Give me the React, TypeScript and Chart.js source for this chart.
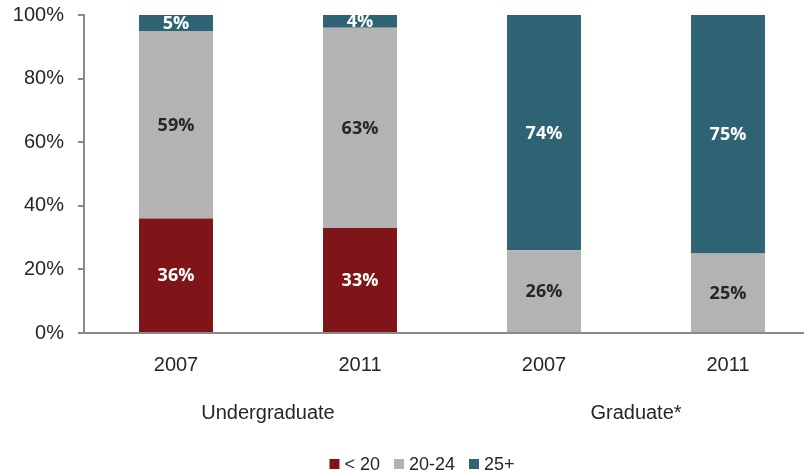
import React, { useEffect, useRef } from "react";
import { Chart, registerables } from "chart.js";

Chart.register(...registerables);

const categories = ["2007", "2011", "2007", "2011"];
const groups = ["Undergraduate", "Graduate*"];
const seriesNames = ["< 20", "20-24", "25+"];
const under20 = [36, 33, 0, 0];
const age20to24 = [59, 63, 26, 25];
const age25plus = [5, 4, 74, 75];
const seriesColors = ["#7f1518", "#b3b3b4", "#2e6374"];
const labelColors = ["#ffffff", "#262626", "#ffffff"];

const AXIS_FONT = "'Liberation Sans', Arial, sans-serif";
const LABEL_FONT = "'Open Sans', 'Noto Sans', sans-serif";

const dataLabelPlugin = {
  id: "dataLabels",
  afterDatasetsDraw(chart: any) {
    const ctx = chart.ctx;
    ctx.save();
    ctx.font = `bold 18px ${LABEL_FONT}`;
    ctx.textAlign = "center";
    ctx.textBaseline = "middle";
    chart.data.datasets.forEach((ds: any, di: number) => {
      const meta = chart.getDatasetMeta(di);
      meta.data.forEach((el: any, i: number) => {
        const v = ds.data[i];
        if (!v) return;
        ctx.fillStyle = labelColors[di];
        ctx.fillText(`${v}%`, el.x, (el.y + el.base) / 2 + 1);
      });
    });
    ctx.restore();
  },
};

const groupLabelPlugin = {
  id: "groupLabels",
  afterDraw(chart: any) {
    const ctx = chart.ctx;
    const xs = chart.scales.x;
    ctx.save();
    ctx.font = `20px ${AXIS_FONT}`;
    ctx.fillStyle = "#262626";
    ctx.textAlign = "center";
    ctx.textBaseline = "middle";
    groups.forEach((g, i) => {
      const x = (xs.getPixelForValue(2 * i) + xs.getPixelForValue(2 * i + 1)) / 2;
      ctx.fillText(g, x, 413);
    });
    ctx.restore();
  },
};

const legendPlugin = {
  id: "customLegend",
  afterDraw(chart: any) {
    const ctx = chart.ctx;
    ctx.save();
    ctx.font = `18px ${AXIS_FONT}`;
    ctx.textBaseline = "middle";
    ctx.textAlign = "left";
    const box = 10;
    const gap = 5;
    const itemGap = 14;
    const widths = seriesNames.map((n) => box + gap + ctx.measureText(n).width);
    const total = widths.reduce((a, b) => a + b, 0) + itemGap * (widths.length - 1);
    let x = 422 - total / 2;
    const y = 464;
    seriesNames.forEach((n, i) => {
      ctx.fillStyle = seriesColors[i];
      ctx.fillRect(x, y - box / 2, box, box);
      ctx.fillStyle = "#262626";
      ctx.fillText(n, x + box + gap, y + 1);
      x += widths[i] + itemGap;
    });
    ctx.restore();
  },
};

export default function App() {
  const ref = useRef<HTMLCanvasElement | null>(null);
  useEffect(() => {
    if (!ref.current) return;
    const chart = new Chart(ref.current, {
      type: "bar",
      data: {
        labels: categories,
        datasets: [under20, age20to24, age25plus].map((d, i) => ({
          label: seriesNames[i],
          data: d,
          backgroundColor: seriesColors[i],
          borderWidth: 0,
          categoryPercentage: 1,
          barPercentage: 0.402,
        })),
      },
      options: {
        animation: false,
        responsive: false,
        maintainAspectRatio: false,
        devicePixelRatio: 1,
        layout: { padding: { top: 15, left: 0, right: 0, bottom: 0 } },
        plugins: {
          legend: { display: false },
          tooltip: { enabled: false },
        },
        scales: {
          x: {
            stacked: true,
            grid: { display: false },
            border: { display: true, color: "#8a8a8a", width: 2 },
            ticks: {
              color: "#262626",
              font: { family: AXIS_FONT, size: 20 },
              padding: 12,
              maxRotation: 0,
            },
            afterFit: (s: any) => {
              s.height = 138;
              s.paddingLeft = 0;
              s.paddingRight = 0;
            },
          },
          y: {
            stacked: true,
            min: 0,
            max: 100,
            grid: {
              display: true,
              drawOnChartArea: false,
              drawTicks: true,
              tickLength: 6,
              color: "#8a8a8a",
              lineWidth: 2,
            },
            border: { display: true, color: "#8a8a8a", width: 2 },
            ticks: {
              stepSize: 20,
              color: "#262626",
              font: { family: AXIS_FONT, size: 20 },
              padding: 14,
              callback: (v: any) => `${v}%`,
            },
            afterFit: (s: any) => {
              s.width = 84;
              s.paddingTop = 0;
              s.paddingBottom = 0;
            },
          },
        },
      },
      plugins: [dataLabelPlugin, groupLabelPlugin, legendPlugin],
    });
    return () => chart.destroy();
  }, []);

  return (
    <div
      style={{
        position: "absolute",
        left: 0,
        top: 0,
        width: 804,
        height: 471,
        overflow: "hidden",
        background: "#fff",
      }}
    >
      <canvas ref={ref} width={820} height={471} style={{ display: "block" }} />
    </div>
  );
}
